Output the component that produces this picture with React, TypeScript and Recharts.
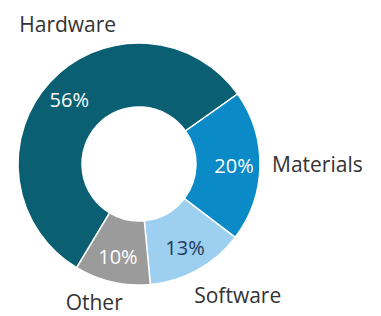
import { PieChart, Pie, Cell } from 'recharts'

const CATEGORIES = ['Hardware', 'Materials', 'Software', 'Other']
const SHARES = [56, 20, 13, 10]

const COLORS = ['#0b5f73', '#0a8ac6', '#9ccff0', '#9b9b9b']
const PCT_COLORS = ['#ffffff', '#ffffff', '#1d3a5a', '#ffffff']

// where the category names sit, in polar terms around the centre
const NAME_POS = [
  { angle: 117, r: 157, anchor: 'middle' },
  { angle: 0, r: 133, anchor: 'start' },
  { angle: -53, r: 164, anchor: 'middle' },
  { angle: -108, r: 145, anchor: 'middle' },
]

const data = CATEGORIES.map((name, i) => ({ name, value: SHARES[i] }))

const RAD = Math.PI / 180
const FONT = '"Open Sans", sans-serif'

function renderLabel(props: any) {
  const { cx, cy, midAngle, index, value } = props
  const pr = 95
  const px = cx + pr * Math.cos(-midAngle * RAD)
  const py = cy + pr * Math.sin(-midAngle * RAD)
  const pos = NAME_POS[index]
  const nx = cx + pos.r * Math.cos(-pos.angle * RAD)
  const ny = cy + pos.r * Math.sin(-pos.angle * RAD)
  return (
    <g key={`lbl-${index}`}>
      <text
        x={px}
        y={py}
        fill={PCT_COLORS[index]}
        textAnchor="middle"
        dominantBaseline="central"
        fontSize={20}
        fontWeight={500}
        fontFamily={FONT}
      >
        {value}%
      </text>
      <text
        x={nx}
        y={ny}
        fill="#333333"
        textAnchor={pos.anchor as any}
        dominantBaseline="central"
        fontSize={21}
        fontWeight={500}
        fontFamily={FONT}
      >
        {CATEGORIES[index]}
      </text>
    </g>
  )
}

export default function App() {
  return (
    <div style={{ position: 'absolute', left: 0, top: 0, width: 381, height: 316, background: '#fff' }}>
      <PieChart width={381} height={316} margin={{ top: 0, right: 0, bottom: 0, left: 0 }}>
        <Pie
          data={data}
          dataKey="value"
          cx={139}
          cy={164}
          innerRadius={57}
          outerRadius={121}
          startAngle={239}
          endAngle={-121}
          stroke="#ffffff"
          strokeWidth={1.5}
          label={renderLabel}
          labelLine={false}
          isAnimationActive={false}
        >
          {data.map((entry, i) => (
            <Cell key={`cell-${i}`} fill={COLORS[i]} />
          ))}
        </Pie>
      </PieChart>
    </div>
  )
}
